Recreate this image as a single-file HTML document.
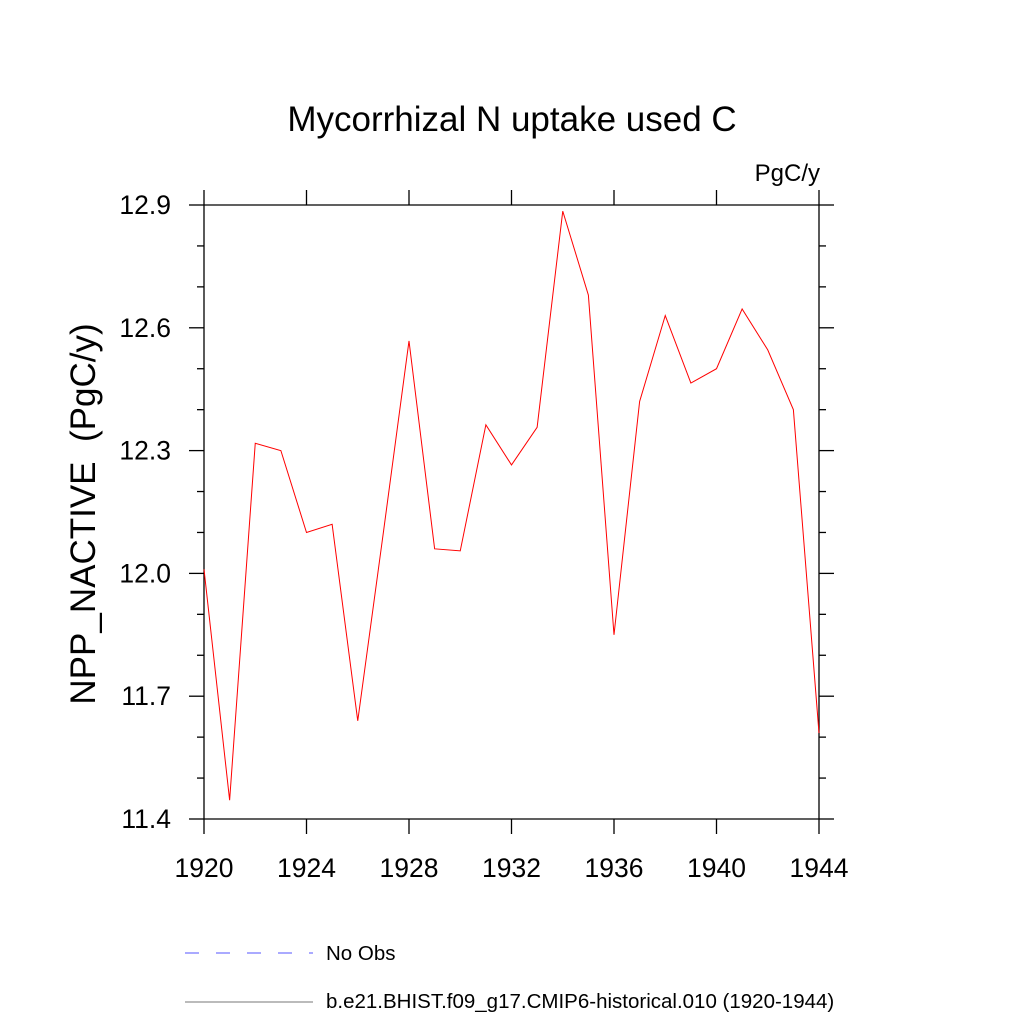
<!DOCTYPE html>
<html><head><meta charset="utf-8"><style>
body{margin:0;background:#fff;}
svg{display:block;font-family:"Liberation Sans",sans-serif;}
</style></head><body>
<svg id="chart" width="1024" height="1024" viewBox="0 0 1024 1024">
<text x="512" y="131" font-size="35" text-anchor="middle">Mycorrhizal N uptake used C</text>
<text x="820" y="181" font-size="24" text-anchor="end">PgC/y</text>
<text transform="translate(95,514) rotate(-90)" font-size="35" text-anchor="middle">NPP_NACTIVE&#160; (PgC/y)</text>
<g id="axes" stroke="#000" stroke-width="1.3" fill="none"></g>
<g id="labels" font-size="26.5"></g>
<polyline id="series" fill="none" stroke="#ff0000" stroke-width="1"/>
<line x1="185" y1="953" x2="313" y2="953" stroke="#5555ff" stroke-width="1" stroke-dasharray="14,17"/>
<text x="326" y="960" font-size="20.5">No Obs</text>
<line x1="185" y1="1002" x2="313" y2="1002" stroke="#777" stroke-width="1"/>
<text x="326" y="1008" font-size="20.5">b.e21.BHIST.f09_g17.CMIP6-historical.010 (1920-1944)</text>
</svg>
<script>
const years=[1920,1921,1922,1923,1924,1925,1926,1927,1928,1929,1930,1931,1932,1933,1934,1935,1936,1937,1938,1939,1940,1941,1942,1943,1944];
const values=[12.01,11.446,12.318,12.30,12.10,12.12,11.64,12.10,12.568,12.06,12.055,12.363,12.265,12.357,12.885,12.68,11.85,12.42,12.63,12.465,12.50,12.646,12.546,12.40,11.61];
const xTicks=[1920,1924,1928,1932,1936,1940,1944];
const yTicks=[11.4,11.7,12.0,12.3,12.6,12.9];
const yMinor=[11.5,11.6,11.8,11.9,12.1,12.2,12.4,12.5,12.7,12.8];
const xMin=1920,xMax=1944,yMin=11.4,yMax=12.9;
const L=204,R=819,T=205,B=819;
const sx=v=>L+(v-xMin)/(xMax-xMin)*(R-L);
const sy=v=>B-(v-yMin)/(yMax-yMin)*(B-T);
const NS="http://www.w3.org/2000/svg";
const ax=document.getElementById('axes'),lb=document.getElementById('labels');
function ln(x1,y1,x2,y2,name){const e=document.createElementNS(NS,'line');
e.setAttribute('x1',x1);e.setAttribute('y1',y1);e.setAttribute('x2',x2);e.setAttribute('y2',y2);


ax.appendChild(e);}
ln(L,T,R,T,'top-axis');ln(L,B,R,B,'bottom-axis');ln(L,T,L,B,'left-axis');ln(R,T,R,B,'right-axis');
xTicks.forEach(t=>{const x=sx(t);ln(x,B,x,B+15,'x-tick');ln(x,T,x,T-15,'x-tick-top');
const e=document.createElementNS(NS,'text');e.setAttribute('x',x);e.setAttribute('y',B+58);e.setAttribute('text-anchor','middle');e.textContent=t;


lb.appendChild(e);});
yTicks.forEach(t=>{const y=sy(t);ln(L-15,y,L,y,'y-tick');ln(R,y,R+15,y,'y-tick-right');
const e=document.createElementNS(NS,'text');e.setAttribute('x',L-33);e.setAttribute('y',y+9);e.setAttribute('text-anchor','end');e.textContent=t.toFixed(1);


lb.appendChild(e);});
yMinor.forEach(t=>{const y=sy(t);ln(L-7,y,L,y,'y-minor-tick');ln(R,y,R+7,y,'y-minor-tick-right');});
document.getElementById('series').setAttribute('points',years.map((y,i)=>sx(y)+','+sy(values[i])).join(' '));
</script>
</body></html>
